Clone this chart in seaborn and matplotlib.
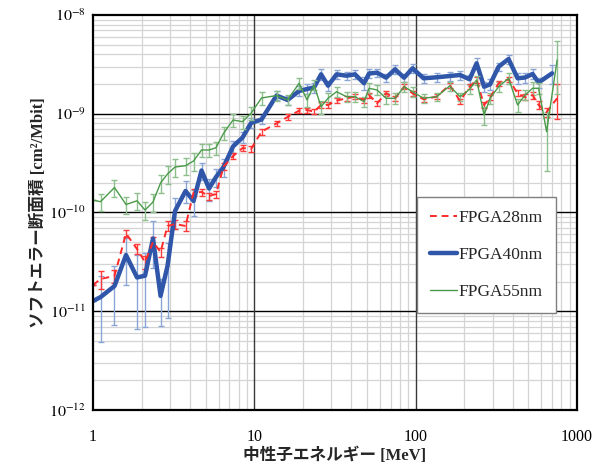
import numpy as np
import pandas as pd
import matplotlib
matplotlib.use("Agg")
import matplotlib.pyplot as plt
import matplotlib.ticker as mticker
import seaborn as sns

# ---------------- data (cross sections in units of 1e-10 cm^2/Mbit) ----------------
energy_28 = [1.00, 1.113, 1.359, 1.602, 1.874, 2.101, 2.355, 2.622, 2.896, 3.224, 3.746, 4.200,
             4.707, 5.239, 5.789, 6.444, 7.379, 8.451, 9.540, 11.08, 13.73, 16.06, 18.93, 21.22,
             23.45, 25.92, 28.64, 32.33, 37.29, 42.11, 47.87, 51.42, 57.65, 65.54, 74.52, 84.76,
             95.68, 111.9, 134.8, 162.3, 188.5, 215.9, 238.6, 265.5, 289.3, 326.6, 376.6, 428.2,
             476.7, 530.5, 578.0, 648.0, 752.9]
energy_55 = list(energy_28)
energy_40 = [1.00, 1.113, 1.359, 1.602, 1.874, 2.101, 2.355, 2.622, 2.896, 3.224, 3.746, 4.200,
             4.707, 5.239, 5.789, 6.444, 7.379, 8.451, 9.540, 11.08, 13.73, 16.06, 18.93, 21.22,
             23.45, 25.92, 28.64, 32.33, 37.29, 42.11, 47.87, 51.42, 57.65, 65.54, 74.52, 84.76,
             95.68, 111.9, 134.8, 162.3, 188.5, 215.9, 238.6, 265.5, 289.3, 326.6, 376.6, 428.2,
             476.7, 530.5, 578.0, 700.7]

sigma_28 = [0.184, 0.212, 0.228, 0.613, 0.427, 0.315, 0.503, 0.398, 0.730, 0.765, 0.730, 1.594,
            1.613, 1.469, 1.539, 2.909, 3.734, 4.500, 4.395, 6.580, 8.003, 9.271, 10.74, 10.91,
            10.49, 12.27, 12.27, 13.56, 14.34, 14.89, 13.78, 15.48, 12.76, 16.11, 14.34, 18.79,
            16.11, 14.01, 14.89, 19.55, 13.46, 18.79, 21.97, 12.27, 14.54, 20.34, 22.33, 16.11,
            14.68, 15.48, 12.27, 10.41, 14.34]
sigma_40 = [0.127, 0.139, 0.180, 0.371, 0.220, 0.229, 0.545, 0.143, 0.287, 1.036, 1.651, 1.307,
            2.663, 1.750, 2.288, 2.889, 4.660, 5.747, 8.059, 8.747, 15.30, 13.78, 17.00, 17.81,
            18.45, 25.08, 19.23, 25.08, 24.28, 25.08, 20.34, 25.56, 26.04, 23.18, 28.19, 23.18,
            28.86, 22.86, 23.39, 24.11, 24.68, 22.33, 32.43, 18.79, 19.87, 29.96, 35.84, 22.86,
            23.28, 25.27, 20.72, 25.68]
sigma_55 = [1.338, 1.286, 1.791, 1.205, 1.314, 1.060, 1.277, 1.990, 2.454, 2.889, 2.978, 3.323,
            4.296, 4.296, 4.531, 6.339, 8.645, 8.309, 10.11, 14.44, 15.30, 13.78, 20.34, 13.78,
            19.55, 11.79, 14.34, 16.72, 14.89, 14.89, 13.24, 18.10, 17.40, 14.34, 14.34, 18.79,
            16.72, 14.34, 14.89, 19.10, 14.89, 17.69, 21.97, 9.712, 14.34, 18.79, 22.86, 12.27,
            15.48, 18.10, 18.10, 6.580, 35.02]

# relative (1-sigma) error of each point
relerr_28 = [0.0, 0.2, 0.15, 0.08, 0.12, 0.15, 0.12, 0.1, 0.12, 0.1, 0.12, 0.08, 0.08, 0.08, 0.08,
             0.08, 0.07, 0.07, 0.07, 0.07, 0.06, 0.06, 0.06, 0.06, 0.06, 0.06, 0.06, 0.06, 0.06,
             0.06, 0.06, 0.06, 0.06, 0.06, 0.06, 0.06, 0.06, 0.06, 0.06, 0.06, 0.06, 0.06, 0.06,
             0.06, 0.06, 0.06, 0.06, 0.07, 0.07, 0.08, 0.1, 0.1, 0.39]
relerr_40 = [0.0, 0.65, 0.6, 0.5, 0.7, 0.7, 0.5, 0.5, 0.7, 0.35, 0.25, 0.3, 0.2, 0.25, 0.2, 0.2,
             0.15, 0.13, 0.12, 0.1, 0.1, 0.1, 0.12, 0.12, 0.12, 0.12, 0.12, 0.1, 0.1, 0.1, 0.15,
             0.1, 0.1, 0.1, 0.1, 0.1, 0.1, 0.1, 0.1, 0.1, 0.1, 0.1, 0.12, 0.12, 0.12, 0.1, 0.1,
             0.12, 0.12, 0.12, 0.12, 0.22]
relerr_55 = [0.0, 0.2, 0.2, 0.2, 0.2, 0.2, 0.2, 0.2, 0.2, 0.2, 0.2, 0.2, 0.15, 0.15, 0.15, 0.15,
             0.15, 0.15, 0.15, 0.15, 0.12, 0.12, 0.12, 0.15, 0.12, 0.15, 0.12, 0.12, 0.12, 0.12,
             0.12, 0.12, 0.12, 0.12, 0.12, 0.12, 0.12, 0.1, 0.1, 0.1, 0.1, 0.1, 0.1, 0.2, 0.12,
             0.12, 0.12, 0.15, 0.12, 0.15, 0.12, 0.6, 0.55]

labels = ["FPGA28nm", "FPGA40nm", "FPGA55nm"]
x_ticks = [1, 10, 100, 1000]
x_ticklabels = ["1", "10", "100", "1000"]
y_exponents = [-12, -11, -10, -9, -8]
UNIT = 1e-10

# ---------------- style ----------------
sns.set_theme(style="white")
plt.rcParams["font.family"] = ["Liberation Serif", "Noto Sans CJK JP", "DejaVu Sans"]
plt.rcParams["mathtext.fontset"] = "stix"

fig = plt.figure(figsize=(6.09, 4.65), dpi=100)
ax = fig.add_axes([93 / 609, 1 - 410 / 465, 484 / 609, 395 / 465])
ax.set_xscale("log")
ax.set_yscale("log")

RED, RED_E = "#ff2a2a", "#ff3b3b"
BLUE, BLUE_E = "#2f56a8", "#8aa6d6"
GREEN, GREEN_E = "#4a9a4a", "#8cbf8c"

series = [
    (energy_28, sigma_28, relerr_28, labels[0], RED, RED_E, 1.4, (0, (3.5, 2.5)), 5),
    (energy_40, sigma_40, relerr_40, labels[1], BLUE, BLUE_E, 3.2, "-", 4),
    (energy_55, sigma_55, relerr_55, labels[2], GREEN, GREEN_E, 1.0, "-", 6),
]

for e, s, r, lab, col, ecol, lw, ls, z in series:
    vals = np.array(s) * UNIT
    err = vals * np.array(r)
    ax.errorbar(e, vals, yerr=err, fmt="none", ecolor=ecol, elinewidth=1.0,
                capsize=2.5, capthick=1.0, zorder=z - 2)
    df = pd.DataFrame({"E": e, "sigma": vals})
    sns.lineplot(data=df, x="E", y="sigma", ax=ax, color=col, lw=lw, linestyle=ls,
                 label=lab, sort=False, errorbar=None, zorder=z)

ax.set_xlim(1, 1000)
ax.set_ylim(1e-12, 1e-8)

ax.xaxis.set_major_locator(mticker.FixedLocator(x_ticks))
ax.xaxis.set_major_formatter(mticker.FixedFormatter(x_ticklabels))
ax.yaxis.set_major_locator(mticker.FixedLocator([10.0 ** k for k in y_exponents]))
ax.yaxis.set_major_formatter(mticker.FixedFormatter([r"$10^{%d}$" % k for k in y_exponents]))
ax.xaxis.set_minor_locator(mticker.LogLocator(base=10, subs=np.arange(2, 10), numticks=20))
ax.yaxis.set_minor_locator(mticker.LogLocator(base=10, subs=np.arange(2, 10), numticks=20))
ax.xaxis.set_minor_formatter(mticker.NullFormatter())
ax.yaxis.set_minor_formatter(mticker.NullFormatter())
ax.tick_params(which="both", length=0, labelsize=11.5, colors="black")
ax.tick_params(axis="y", pad=5)
ax.tick_params(axis="x", pad=14)

# minor grid (light) from the axes, major grid drawn on top of it
ax.grid(which="minor", color="#d4d4d4", lw=0.9)
ax.grid(which="major", visible=False)
ax.set_axisbelow(True)
for k in y_exponents[1:-1]:
    ax.axhline(10.0 ** k, color="black", lw=1.0, zorder=1)
for xv in x_ticks[1:-1]:
    ax.axvline(xv, color="#3a3a3a", lw=1.0, zorder=1)
for sp in ax.spines.values():
    sp.set_color("black")
    sp.set_linewidth(1.6)
    sp.set_zorder(10)

ax.set_xlabel("中性子エネルギー [MeV]", fontsize=12, fontweight="bold")
ax.set_ylabel("ソフトエラー断面積 [cm²/Mbit]", fontsize=12, fontweight="bold")
ax.xaxis.set_label_coords(0.5, -0.094)
ax.yaxis.set_label_coords(-0.095, 0.5)

leg = ax.legend(loc="upper left", bbox_to_anchor=(0.669, 0.539), fontsize=12.5,
                frameon=True, fancybox=False, framealpha=1, edgecolor="#7f7f7f",
                handlelength=1.55, handletextpad=0.1, labelspacing=1.2,
                borderpad=0.75, borderaxespad=0)
leg.get_frame().set_linewidth(1.0)
leg.set_zorder(20)

fig.savefig("out.png", dpi=100)
